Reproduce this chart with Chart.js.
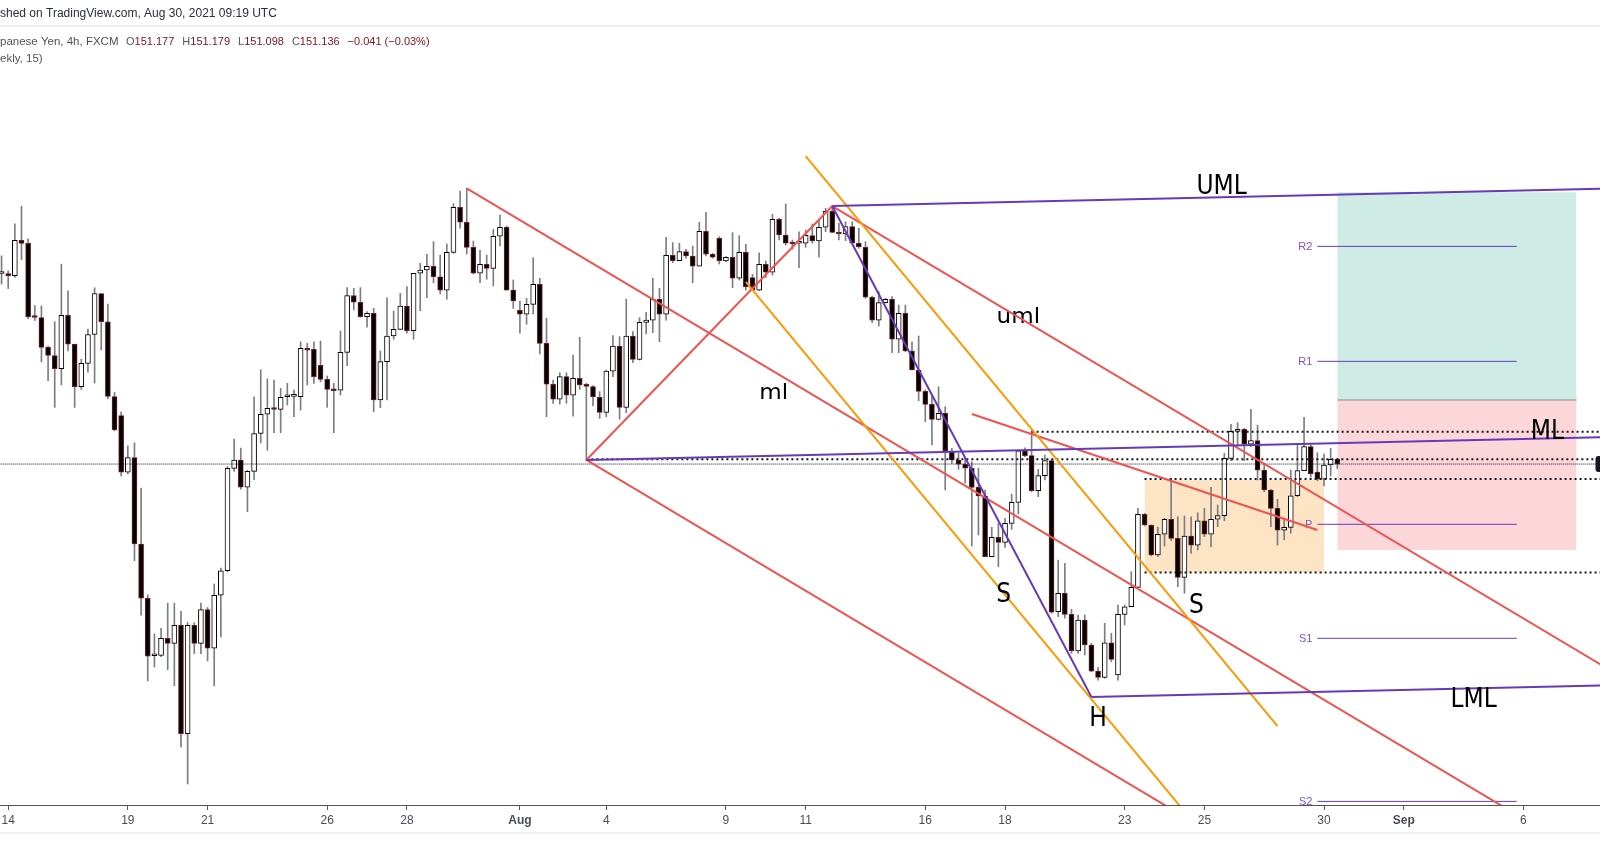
<!DOCTYPE html>
<html>
<head>
<meta charset="utf-8">
<script src="https://cdn.jsdelivr.net/npm/chart.js@4.4.1/dist/chart.umd.min.js"></script>
<style>
  html, body { margin: 0; padding: 0; background: #fff; }
  #c { display: block; }
</style>
</head>
<body>
<canvas id="c" width="1600" height="868"></canvas>
<script>
// GBP/JPY 4h, 13 jul - 30 ago 2021, lido da captura do TradingView
// eixo x = indice da barra (0 = primeira barra de 14 jul), eixo y = preco

const FIRST_BAR = -1;

const opens = [
  152.724, 152.724, 152.705, 153.000, 152.975, 152.363, 152.357, 152.109, 152.041, 151.931,
  152.376, 152.135, 151.780, 151.975, 152.216, 152.557, 152.322, 151.699, 151.539, 151.068,
  151.191, 150.470, 150.018, 149.539, 149.541, 149.683, 149.642, 149.792, 148.890, 149.792,
  149.642, 149.924, 149.601, 150.043, 150.247, 151.100, 151.169, 150.943, 151.075, 151.391,
  151.551, 151.599, 151.592, 151.697, 151.700, 151.697, 152.100, 152.092, 151.959, 151.842,
  151.759, 151.751, 152.067, 152.539, 152.484, 152.364, 152.392, 151.670, 151.989, 152.203,
  152.259, 152.453, 152.247, 152.726, 152.753, 152.784, 152.697, 152.586, 152.900, 153.276,
  153.151, 152.942, 152.726, 152.801, 152.767, 153.034, 153.109, 152.586, 152.417, 152.384,
  152.467, 152.634, 152.142, 151.801, 151.676, 151.864, 151.711, 151.851, 151.795, 151.781,
  151.692, 151.567, 151.911, 152.120, 151.609, 152.203, 152.009, 152.317, 152.336, 152.509,
  152.384, 152.876, 152.831, 152.906, 152.870, 152.786, 153.076, 152.884, 153.017, 152.828,
  152.859, 152.684, 152.900, 152.689, 152.586, 152.801, 152.734, 153.176, 153.045, 152.976,
  152.976, 152.976, 153.039, 152.995, 153.109, 153.242, 153.061, 153.053, 153.114, 152.976,
  152.942, 152.526, 152.336, 152.481, 152.509, 152.176, 152.392, 152.078, 151.920, 151.742,
  151.634, 151.509, 151.559, 151.245, 151.170, 151.136, 151.101, 150.942, 150.870, 150.364,
  150.526, 150.484, 150.642, 150.817, 151.247, 151.206, 150.914, 151.039, 151.164, 149.906,
  150.059, 149.884, 149.578, 149.836, 149.628, 149.411, 149.359, 149.647, 149.378, 149.884,
  149.947, 150.109, 150.717, 150.628, 150.378, 150.551, 150.676, 150.517, 150.192, 150.536,
  150.461, 150.664, 150.551, 150.676, 150.706, 151.184, 151.409, 151.426, 151.301, 151.331,
  151.086, 150.920, 150.767, 150.586, 150.609, 150.872, 151.081, 151.281, 151.070, 151.011,
  151.128, 151.177,
];

const highs = [
  152.871, 152.746, 153.137, 153.285, 153.012, 152.457, 152.454, 152.119, 152.322, 152.802,
  152.580, 152.135, 152.009, 152.260, 152.605, 152.557, 152.470, 151.733, 151.570, 151.288,
  151.313, 150.936, 150.046, 149.721, 149.767, 149.977, 149.977, 149.909, 149.815, 149.815,
  149.977, 149.940, 150.137, 150.269, 151.116, 151.345, 151.269, 151.084, 151.696, 151.921,
  151.846, 151.836, 151.767, 151.809, 151.753, 152.155, 152.142, 152.155, 152.161, 151.870,
  151.809, 152.245, 152.606, 152.601, 152.606, 152.406, 152.434, 152.078, 152.522, 152.411,
  152.559, 152.614, 152.726, 152.809, 152.884, 152.989, 152.878, 152.970, 153.306, 153.411,
  153.434, 152.995, 152.917, 152.878, 153.092, 153.211, 153.120, 152.670, 152.495, 152.517,
  152.856, 152.684, 152.351, 151.836, 151.897, 151.897, 152.045, 152.192, 151.809, 151.789,
  151.739, 151.920, 152.206, 152.197, 152.511, 152.239, 152.356, 152.401, 152.684, 152.601,
  153.026, 152.981, 152.976, 152.926, 152.953, 153.151, 153.234, 152.892, 153.031, 152.864,
  153.064, 153.039, 152.967, 152.717, 152.897, 152.828, 153.217, 153.184, 153.303, 153.003,
  153.072, 153.086, 153.136, 153.170, 153.267, 153.286, 153.142, 153.155, 153.155, 153.101,
  152.989, 152.536, 152.572, 152.517, 152.531, 152.461, 152.461, 152.155, 152.203, 151.753,
  151.703, 151.781, 151.614, 151.267, 151.226, 151.184, 151.156, 151.101, 150.920, 150.609,
  150.642, 150.684, 150.886, 151.253, 151.272, 151.414, 151.092, 151.211, 151.176, 150.336,
  150.309, 149.926, 149.878, 149.878, 149.642, 149.442, 149.809, 149.726, 149.961, 149.961,
  150.239, 150.767, 150.726, 150.628, 150.609, 150.684, 151.017, 150.697, 150.703, 150.697,
  150.731, 150.767, 150.942, 150.795, 151.226, 151.467, 151.481, 151.434, 151.592, 151.461,
  151.142, 150.926, 150.842, 150.684, 151.086, 151.295, 151.526, 151.295, 151.231, 151.220,
  151.267, 151.179,
];

const lows = [
  152.636, 152.598, 152.692, 152.840, 152.347, 152.332, 151.987, 151.831, 151.608, 151.796,
  152.078, 151.608, 151.758, 151.902, 151.811, 152.087, 151.680, 151.413, 151.037, 151.053,
  150.331, 149.877, 149.329, 149.445, 149.532, 149.422, 149.288, 148.780, 148.470, 149.557,
  149.557, 149.495, 149.288, 149.696, 150.238, 151.075, 150.927, 150.739, 151.006, 151.313,
  151.251, 151.397, 151.397, 151.628, 151.530, 151.586, 151.795, 151.809, 151.822, 151.609,
  151.397, 151.711, 151.956, 152.420, 152.359, 152.276, 151.572, 151.606, 151.670, 152.176,
  152.259, 152.226, 152.176, 152.414, 152.522, 152.647, 152.553, 152.509, 152.892, 153.101,
  152.886, 152.720, 152.647, 152.676, 152.620, 152.953, 152.586, 152.434, 152.226, 152.301,
  152.386, 152.053, 151.530, 151.642, 151.636, 151.642, 151.536, 151.759, 151.170, 151.620,
  151.517, 151.530, 151.864, 151.509, 151.564, 151.981, 152.003, 152.220, 152.231, 152.155,
  152.336, 152.814, 152.831, 152.851, 152.647, 152.786, 152.870, 152.851, 152.803, 152.822,
  152.606, 152.670, 152.586, 152.581, 152.581, 152.689, 152.711, 153.003, 152.961, 152.926,
  152.772, 152.942, 152.976, 152.859, 153.072, 153.064, 153.003, 152.997, 152.970, 152.934,
  152.517, 152.314, 152.286, 152.478, 152.064, 152.064, 152.072, 151.920, 151.664, 151.489,
  151.295, 151.503, 150.920, 151.142, 151.092, 150.976, 150.453, 150.545, 150.364, 150.364,
  150.281, 150.442, 150.592, 150.720, 151.197, 150.906, 150.864, 151.003, 149.892, 149.864,
  149.851, 149.559, 149.559, 149.545, 149.406, 149.336, 149.351, 149.489, 149.336, 149.795,
  149.947, 150.101, 150.620, 150.370, 150.364, 150.453, 150.497, 150.114, 150.059, 150.392,
  150.420, 150.531, 150.447, 150.614, 150.664, 151.164, 151.286, 151.164, 151.281, 151.003,
  150.906, 150.614, 150.461, 150.503, 150.559, 150.864, 151.081, 151.026, 150.997, 150.953,
  151.036, 151.098,
];

const closes = [
  152.724, 152.705, 153.000, 152.975, 152.363, 152.357, 152.109, 152.041, 151.931, 152.376,
  152.135, 151.780, 151.975, 152.216, 152.557, 152.322, 151.699, 151.420, 151.068, 151.191,
  150.470, 150.018, 149.536, 149.539, 149.683, 149.642, 149.792, 148.890, 149.792, 149.642,
  149.924, 149.601, 150.043, 150.247, 151.100, 151.169, 150.943, 151.075, 151.391, 151.551,
  151.601, 151.591, 151.692, 151.697, 151.700, 152.100, 152.086, 151.864, 151.842, 151.759,
  151.747, 152.067, 152.539, 152.484, 152.364, 152.392, 151.670, 151.989, 152.203, 152.259,
  152.453, 152.247, 152.726, 152.753, 152.784, 152.697, 152.586, 152.900, 153.276, 153.151,
  152.942, 152.726, 152.801, 152.767, 153.034, 153.109, 152.586, 152.495, 152.384, 152.467,
  152.634, 152.142, 151.801, 151.676, 151.864, 151.711, 151.851, 151.795, 151.784, 151.697,
  151.567, 151.911, 152.120, 151.609, 152.203, 152.009, 152.317, 152.336, 152.509, 152.384,
  152.876, 152.831, 152.906, 152.870, 152.786, 153.076, 152.884, 152.861, 152.828, 152.859,
  152.684, 152.900, 152.614, 152.586, 152.801, 152.734, 153.176, 153.045, 152.976, 152.970,
  152.976, 153.041, 152.995, 153.109, 153.242, 153.067, 153.053, 153.114, 152.976, 152.947,
  152.526, 152.336, 152.481, 152.509, 152.176, 152.392, 152.078, 151.920, 151.742, 151.634,
  151.509, 151.559, 151.245, 151.170, 151.136, 151.101, 150.942, 150.870, 150.364, 150.526,
  150.484, 150.642, 150.817, 151.247, 151.206, 150.914, 151.039, 151.164, 149.901, 150.059,
  149.884, 149.578, 149.836, 149.628, 149.411, 149.359, 149.647, 149.509, 149.884, 149.947,
  150.109, 150.717, 150.628, 150.378, 150.551, 150.676, 150.517, 150.192, 150.536, 150.461,
  150.664, 150.551, 150.676, 150.706, 151.184, 151.409, 151.426, 151.301, 151.331, 151.086,
  150.920, 150.767, 150.586, 150.609, 150.872, 151.081, 151.281, 151.053, 151.011, 151.128,
  151.175, 151.136,
];

// rotulos do eixo de tempo (barra -> texto)
const tickBars = [0, 18, 30, 48, 60, 77, 90, 108, 120, 138, 150, 168, 180, 198, 210, 228];
const tickLabels = ['14', '19', '21', '26', '28', 'Aug', '4', '9', '11', '16', '18', '23', '25', '30', 'Sep', '6'];

// legenda OHLC da ultima barra
const ohlcKeys = ['O', 'H', 'L', 'C'];
const ohlcValues = ['151.177', '151.179', '151.098', '151.136'];
const changeText = '\u22120.041 (\u22120.03%)';

// pitchforks: [P0, P1, P2]
const redForkBars = [69, 87, 124];
const redForkPrices = [153.434, 151.170, 153.286];
const purpleForkBars = [87, 124, 163];
const purpleForkPrices = [151.170, 153.286, 149.195];

// linhas de tendencia soltas
const orangeLineBars = [[120, 191], [111, 180]];
const orangeLinePrices = [[153.702, 148.953], [152.655, 148.040]];
const redLineBars = [145, 197];
const redLinePrices = [151.553, 150.586];

// posicao comprada (alvo / entrada / stop)
const positionBars = [200, 236];
const positionPrices = [153.400, 151.670, 150.420];

// retangulo de consolidacao
const rangeBars = [171, 198];
const rangePrices = [151.003, 150.232];

// niveis horizontais pontilhados
const levelPrices = [151.406, 151.176, 151.011, 150.232];
const levelStartBars = [154, 87, 171, 171];
const lastPrice = 151.136;

// pivots semanais
const pivotNames = ['R2', 'R1', 'P', 'S1', 'S2'];
const pivotValues = [152.950, 151.992, 150.634, 149.684, 148.325];
const pivotBars = [197, 227];

// textos desenhados no grafico
const noteTexts = ['UML', 'uml', 'ml', 'ML', 'S', 'S', 'H', 'LML'];
const noteBars = [182.6, 152.0, 115.2, 231.6, 149.8, 178.8, 164.0, 220.5];
const notePrices = [153.387, 152.309, 151.676, 151.342, 149.989, 149.892, 148.953, 149.114];

const X_MIN = -1.234, X_MAX = 239.53, X_END = 241;
const Y_MIN = 148.295, Y_MAX = 154.778;

const RED = '#ef5350', ORANGE = '#ff9800', PURPLE = '#673ab7', INK = '#131722';
const FONT = '"Liberation Sans", Arial, sans-serif';
const NOTE_FONT = '"DejaVu Sans", sans-serif';

function lineSet(label, points, color, width, order, dash) {
  return {
    type: 'line', label, data: points,
    borderColor: color, borderWidth: width, borderDash: dash || [],
    borderCapStyle: 'butt', pointRadius: 0, fill: false, tension: 0, order,
  };
}

function forkSets(tag, bars, prices, color, order) {
  const [b0, b1, b2] = bars;
  const [p0, p1, p2] = prices;
  const slope = ((p1 + p2) / 2 - p0) / ((b1 + b2) / 2 - b0);
  const ray = (b, p) => [{ x: b, y: p }, { x: X_END, y: p + slope * (X_END - b) }];
  return [
    lineSet(tag + '-median', ray(b0, p0), color, 2, order),
    lineSet(tag + '-p1', ray(b1, p1), color, 2, order),
    lineSet(tag + '-p2', ray(b2, p2), color, 2, order),
    lineSet(tag + '-base', [{ x: b1, y: p1 }, { x: b2, y: p2 }], color, 2, order),
  ];
}

function boxSet(label, bars, top, bottom, color, order) {
  return {
    type: 'line', label,
    data: [{ x: bars[0], y: top }, { x: bars[1], y: top }],
    borderColor: 'rgba(0,0,0,0)', borderWidth: 0, pointRadius: 0,
    backgroundColor: color, fill: { value: bottom }, order,
  };
}

const isBull = (i) => closes[i] >= opens[i];

const datasets = [
  boxSet('target-box', positionBars, positionPrices[0], positionPrices[1], '#cfebe6', 30),
  boxSet('stop-box', positionBars, positionPrices[1], positionPrices[2], '#fcd7da', 30),
  boxSet('range-box', rangeBars, rangePrices[0], rangePrices[1], '#fde4c4', 29),
  {
    type: 'bar', label: 'wicks',
    data: opens.map((_, i) => ({ x: FIRST_BAR + i, y: [lows[i], highs[i]] })),
    backgroundColor: '#7b7e87', borderWidth: 0, barThickness: 1, grouped: false, order: 20,
  },
  {
    type: 'bar', label: 'bodies',
    data: opens.map((o, i) => ({ x: FIRST_BAR + i, y: [o, closes[i]] })),
    backgroundColor: (ctx) => (isBull(ctx.dataIndex) ? '#ffffff' : '#000000'),
    borderColor: (ctx) => (isBull(ctx.dataIndex) ? '#000000' : '#731f1f'),
    borderWidth: 1, borderSkipped: false, barThickness: 5, minBarLength: 2,
    grouped: false, order: 19,
  },
  lineSet('entry', [{ x: positionBars[0], y: positionPrices[1] }, { x: positionBars[1], y: positionPrices[1] }], '#8a8d96', 1, 18),
  ...pivotValues.map((v, i) => lineSet('pivot-' + pivotNames[i],
    [{ x: pivotBars[0], y: v }, { x: pivotBars[1], y: v }], PURPLE, 1, 12)),
  ...levelPrices.map((p, i) => lineSet('level-' + i,
    [{ x: levelStartBars[i], y: p }, { x: X_END, y: p }], INK, 2, 10, [2, 3])),
  lineSet('last', [{ x: X_MIN - 1, y: lastPrice }, { x: X_END, y: lastPrice }], INK, 1, 10, [1, 1]),
  lineSet('red-line', redLineBars.map((b, i) => ({ x: b, y: redLinePrices[i] })), RED, 2, 5),
  ...forkSets('red-fork', redForkBars, redForkPrices, RED, 5),
  ...orangeLineBars.map((bars, j) => lineSet('orange-' + j,
    bars.map((b, i) => ({ x: b, y: orangeLinePrices[j][i] })), ORANGE, 2, 4)),
  ...forkSets('purple-fork', purpleForkBars, purpleForkPrices, PURPLE, 3),
];

function drawNotes(chart, wantLower) {
  const { ctx, chartArea: a } = chart;
  const xs = chart.scales.x, ys = chart.scales.y;
  ctx.save();
  ctx.beginPath();
  ctx.rect(a.left, a.top, a.width, a.height);
  ctx.clip();
  ctx.fillStyle = '#000';
  ctx.textAlign = 'center';
  ctx.textBaseline = 'alphabetic';
  noteTexts.forEach((t, i) => {
    const lower = /[a-z]/.test(t);
    if (lower !== wantLower) return;
    ctx.save();
    ctx.translate(xs.getPixelForValue(noteBars[i]), ys.getPixelForValue(notePrices[i]));
    ctx.scale(lower ? 1.05 : 0.9, 1);
    ctx.font = (lower ? 22 : 26) + 'px ' + NOTE_FONT;
    ctx.fillText(t, 0, 0);
    ctx.restore();
  });
  ctx.restore();
}

// textos minusculos e rotulos dos pivots ficam sob as linhas; maiusculos por cima
const annotationText = {
  id: 'annotationText',
  afterDatasetDraw(chart, args) {
    if (chart.data.datasets[args.index].label !== 'range-box') return;
    drawNotes(chart, true);
    const { ctx, chartArea: a } = chart;
    const xs = chart.scales.x, ys = chart.scales.y;
    ctx.save();
    ctx.beginPath();
    ctx.rect(a.left, a.top, a.width, a.height);
    ctx.clip();
    ctx.fillStyle = '#7b52c9';
    ctx.font = '11px ' + FONT;
    ctx.textAlign = 'right';
    ctx.textBaseline = 'middle';
    const lx = xs.getPixelForValue(pivotBars[0]) - 5;
    pivotValues.forEach((v, i) => ctx.fillText(pivotNames[i], lx, ys.getPixelForValue(v) + 0.5));
    ctx.restore();
  },
  afterDatasetsDraw(chart) {
    drawNotes(chart, false);
  },
  afterDraw(chart) {
    const ctx = chart.ctx;
    ctx.save();
    ctx.fillStyle = '#eceef2';
    ctx.fillRect(0, 25, 1600, 2);
    ctx.fillStyle = '#f0f1f5';
    ctx.fillRect(0, 832, 1600, 2);

    ctx.textBaseline = 'middle';
    ctx.textAlign = 'left';
    ctx.font = '12px ' + FONT;
    ctx.fillStyle = '#2a2e39';
    ctx.fillText('shed on TradingView.com, Aug 30, 2021 09:19 UTC', 0, 14);

    const gray = '#50535e', red = '#801922';
    ctx.font = '11.5px ' + FONT;
    ctx.fillStyle = gray;
    ctx.fillText('panese Yen, 4h, FXCM', 0, 42);
    ctx.fillText('ekly, 15)', 0, 59);

    // legenda em fluxo: chave cinza, valor vermelho, 8px entre blocos
    ctx.font = '11px ' + FONT;
    let x = 126;
    ohlcKeys.forEach((k, i) => {
      ctx.fillStyle = gray;
      ctx.fillText(k, x, 42);
      x += ctx.measureText(k).width;
      ctx.fillStyle = red;
      ctx.fillText(ohlcValues[i], x, 42);
      x += ctx.measureText(ohlcValues[i]).width + 8;
    });
    ctx.fillStyle = red;
    ctx.fillText(changeText, x, 42);

    // ponta do rotulo de preco, cortada na borda direita
    ctx.fillStyle = INK;
    ctx.beginPath();
    ctx.roundRect(1595.5, 456, 12, 16, 3);
    ctx.fill();
    ctx.restore();
  },
};

new Chart(document.getElementById('c'), {
  type: 'bar',
  data: { datasets },
  options: {
    responsive: false,
    devicePixelRatio: 1,
    animation: false,
    events: [],
    layout: { padding: { top: 27, bottom: 36, left: 0, right: 0 } },
    plugins: { legend: { display: false }, tooltip: { enabled: false } },
    scales: {
      x: {
        type: 'linear', min: X_MIN, max: X_MAX, offset: false,
        afterBuildTicks: (s) => { s.ticks = tickBars.map((v) => ({ value: v })); },
        afterFit: (s) => { s.height = 27; s.paddingLeft = 0; s.paddingRight = 0; },
        ticks: {
          autoSkip: false, maxRotation: 0, padding: 3, color: '#4a4d57',
          font: (ctx) => ({ family: FONT, size: 12, weight: /[A-Z]/.test(tickLabels[ctx.index] || '') ? 'bold' : 'normal' }),
          callback: (v, i) => tickLabels[i],
        },
        grid: { offset: false, drawOnChartArea: false, drawTicks: true, tickLength: 5, color: '#555' },
        border: { display: true, color: '#555', width: 1 },
      },
      y: { display: false, min: Y_MIN, max: Y_MAX },
    },
  },
  plugins: [annotationText],
});
</script>
</body>
</html>
